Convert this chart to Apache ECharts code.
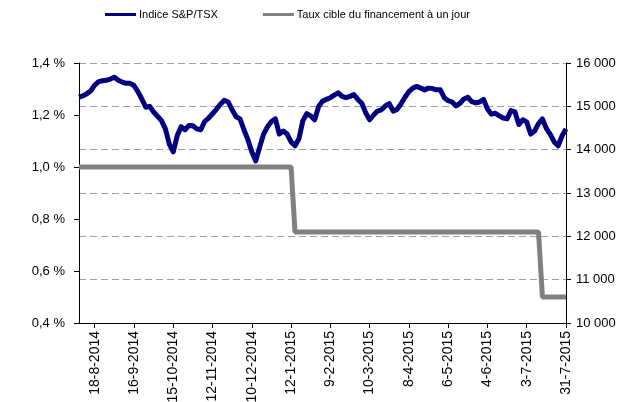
<!DOCTYPE html>
<html>
<head>
<meta charset="utf-8">
<script src="https://cdn.jsdelivr.net/npm/echarts@6/dist/echarts.min.js"></script>
<style>
  html, body { margin: 0; padding: 0; background: #fff; }
  #chart { width: 639px; height: 402px; }
</style>
</head>
<body>
<div id="chart"></div>
<script>
// dates shown on the x axis
const tickLabels = [
  '18-8-2014', '16-9-2014', '15-10-2014', '12-11-2014', '10-12-2014', '12-1-2015',
  '9-2-2015', '10-3-2015', '8-4-2015', '6-5-2015', '4-6-2015', '3-7-2015', '31-7-2015'
]
// TSX closed on these days
const holidays = [
  '1-9-2014', '13-10-2014', '25-12-2014', '26-12-2014', '1-1-2015',
  '16-2-2015', '3-4-2015', '18-5-2015', '1-7-2015'
]

// every second trading day, 6-8-2014 .. 31-7-2015
const categories = []
{
  const d = new Date(2014, 7, 6)
  const end = new Date(2015, 6, 31)
  let n = 0
  while (d <= end) {
    const name = d.getDate() + '-' + (d.getMonth() + 1) + '-' + d.getFullYear()
    const wd = d.getDay()
    if (wd !== 0 && wd !== 6 && !holidays.includes(name)) {
      if (n % 2 === 0) categories.push(name)
      n++
    }
    d.setDate(d.getDate() + 1)
  }
}

// Indice S&P/TSX (right axis), one value per category
const tsx = [
  15210, 15240, 15290, 15360, 15490, 15570, 15590, 15600, 15630, 15670,
  15600, 15560, 15530, 15530, 15480, 15340, 15170, 14980, 15000, 14870,
  14770, 14670, 14480, 14130, 13950, 14320, 14530, 14460, 14560, 14550,
  14480, 14460, 14650, 14730, 14830, 14930, 15050, 15140, 15100, 14920,
  14760, 14710, 14460, 14230, 13950, 13740, 14060, 14360, 14530, 14650,
  14710, 14360, 14430, 14360, 14180, 14090, 14250, 14670, 14830, 14780,
  14690, 14990, 15120, 15160, 15200, 15260, 15310, 15230, 15200, 15230,
  15270, 15160, 15070, 14850, 14690, 14800, 14890, 14920, 15010, 15060,
  14890, 14930, 15060, 15210, 15340, 15420, 15460, 15420, 15380, 15420,
  15410, 15380, 15380, 15200, 15130, 15100, 15010, 15070, 15170, 15210,
  15110, 15080, 15100, 15160, 14940, 14820, 14840, 14780, 14730, 14710,
  14900, 14870, 14580, 14690, 14640, 14360, 14430, 14600, 14710, 14490,
  14350, 14180, 14090, 14320, 14480
]

// Taux cible du financement à un jour (left axis, %)
const rateDates = ['6-8-2014', '12-1-2015', '14-1-2015', '13-7-2015', '15-7-2015', '31-7-2015']
const rateValues = [1.0, 1.0, 0.75, 0.75, 0.5, 0.5]

const font = 'Liberation Sans, Arial, sans-serif'

const chart = echarts.init(document.getElementById('chart'))
const option = {
  animation: false,
  legend: {
    left: 105,
    top: 9,
    padding: 0,
    itemGap: 45,
    itemWidth: 31,
    itemHeight: 3,
    icon: 'rect',
    textStyle: { fontFamily: font, fontSize: 11, color: '#000', padding: [0, 0, 0, -2] },
    data: ['Indice S&P/TSX', 'Taux cible du financement à un jour']
  },
  grid: { left: 79, right: 73, top: 63, bottom: 79, outerBoundsMode: 'none', containLabel: false },
  xAxis: {
    type: 'category',
    boundaryGap: false,
    data: categories,
    axisLine: { lineStyle: { color: '#000', width: 1 } },
    axisTick: {
      length: 5,
      lineStyle: { color: '#000' },
      interval: (i, v) => tickLabels.includes(v)
    },
    axisLabel: {
      rotate: 90,
      margin: 8,
      color: '#000',
      fontFamily: font,
      fontSize: 14,
      interval: (i, v) => tickLabels.includes(v)
    },
    splitLine: { show: false }
  },
  yAxis: [
    {
      type: 'value',
      min: 0.4,
      max: 1.4,
      interval: 0.2,
      position: 'left',
      axisLine: { show: true, lineStyle: { color: '#000' } },
      axisTick: { show: true, length: 5, lineStyle: { color: '#000' } },
      axisLabel: {
        margin: 14,
        color: '#000',
        fontFamily: font,
        fontSize: 13,
        formatter: v => v.toFixed(1).replace('.', ',') + ' %'
      },
      splitLine: { show: false }
    },
    {
      type: 'value',
      min: 10000,
      max: 16000,
      interval: 1000,
      position: 'right',
      axisLine: { show: true, lineStyle: { color: '#000' } },
      axisTick: { show: true, length: 5, lineStyle: { color: '#000' } },
      axisLabel: {
        margin: 10,
        color: '#000',
        fontFamily: font,
        fontSize: 13,
        formatter: v => String(v).replace(/(\d+)(\d{3})$/, '$1 $2')
      },
      splitLine: {
        show: true,
        lineStyle: { color: '#a0a0a0', width: 1, type: [7, 4] }
      }
    }
  ],
  series: [
    {
      name: 'Taux cible du financement à un jour',
      type: 'line',
      yAxisIndex: 0,
      showSymbol: false,
      symbol: 'none',
      color: '#808080',
      lineStyle: { color: '#808080', width: 5 },
      data: rateDates.map((d, i) => [d, rateValues[i]])
    },
    {
      name: 'Indice S&P/TSX',
      type: 'line',
      yAxisIndex: 1,
      showSymbol: false,
      symbol: 'none',
      color: '#000080',
      lineStyle: { color: '#000080', width: 5, join: 'round' },
      data: tsx
    }
  ]
}
chart.setOption(option)
</script>
</body>
</html>
